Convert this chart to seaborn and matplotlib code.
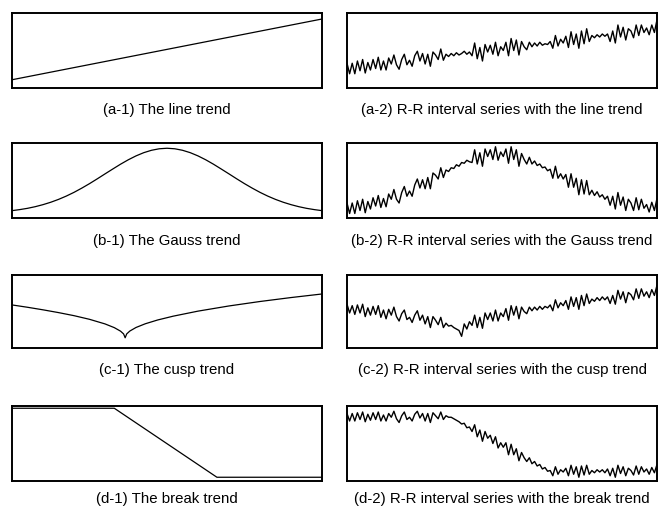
import numpy as np
import matplotlib.pyplot as plt
import seaborn as sns

sns.set_style("white")
plt.rcParams['font.family'] = ['Liberation Sans', 'DejaVu Sans']

# left column: the trends (x as fraction of width, y as % of panel height)
line_x = [0.0, 1.0]
line_y = [11, 92]

gauss_x = [0.0, 0.025, 0.05, 0.075, 0.1, 0.125, 0.15, 0.175, 0.2, 0.225, 0.25,
           0.275, 0.3, 0.325, 0.35, 0.375, 0.4, 0.425, 0.45, 0.475, 0.5,
           0.525, 0.55, 0.575, 0.6, 0.625, 0.65, 0.675, 0.7, 0.725, 0.75,
           0.775, 0.8, 0.825, 0.85, 0.875, 0.9, 0.925, 0.95, 0.975, 1.0]
gauss_y = [9.8, 11.2, 12.9, 15.1, 17.8, 21.0, 24.8, 29.2, 34.2, 39.8, 45.8,
           52.2, 58.8, 65.3, 71.7, 77.6, 82.8, 87.1, 90.3, 92.3, 93.0,
           92.3, 90.3, 87.1, 82.8, 77.6, 71.7, 65.3, 58.8, 52.2, 45.8,
           39.8, 34.2, 29.2, 24.8, 21.0, 17.8, 15.1, 12.9, 11.2, 9.8]

cusp_x = [0.0, 0.05, 0.1, 0.15, 0.2, 0.25, 0.3, 0.33, 0.35, 0.36, 0.365,
          0.37, 0.38, 0.40, 0.43, 0.47, 0.52, 0.6, 0.7, 0.8, 0.9, 1.0]
cusp_y = [59, 55.8, 52.3, 48.5, 44.3, 39.3, 33.0, 27.9, 23.1, 19.3, 14,
          19.3, 23.2, 28.1, 33.2, 38.4, 43.6, 50.5, 57.6, 63.7, 69.1, 74]

break_x = [0.0, 0.33, 0.661, 1.0]
break_y = [97, 97, 5, 5]

# right column: R-R interval series (120 samples each, % of panel height)
rr_line = [33, 19, 33, 19, 36, 23, 38, 20, 34, 24,
           38, 26, 41, 24, 36, 24, 40, 32, 44, 31,
           25, 38, 45, 31, 37, 29, 43, 49, 36, 46,
           32, 45, 29, 48, 44, 38, 52, 37, 45, 42,
           46, 43, 47, 44, 46, 49, 45, 48, 43, 60,
           39, 54, 36, 58, 48, 57, 45, 61, 43, 55,
           50, 61, 43, 66, 50, 64, 44, 62, 55, 51,
           61, 55, 60, 56, 61, 57, 59, 58, 62, 53,
           70, 56, 65, 60, 69, 54, 75, 58, 72, 53,
           76, 59, 79, 62, 70, 67, 71, 68, 72, 69,
           72, 62, 76, 60, 84, 68, 81, 64, 79, 76,
           67, 84, 70, 84, 74, 80, 71, 84, 74, 91]

rr_gauss = [20, 6, 20, 6, 23, 10, 25, 7, 22, 12,
            27, 16, 30, 14, 26, 15, 32, 25, 38, 25,
            20, 34, 42, 29, 36, 29, 44, 52, 40, 51,
            39, 54, 39, 60, 57, 52, 67, 54, 64, 62,
            67, 66, 71, 69, 74, 73, 77, 75, 74, 91,
            72, 87, 69, 92, 82, 91, 78, 95, 77, 88,
            82, 92, 73, 95, 78, 91, 69, 86, 78, 72,
            81, 72, 76, 70, 72, 67, 68, 63, 65, 53,
            69, 53, 59, 52, 58, 41, 59, 41, 53, 31,
            51, 32, 50, 31, 37, 30, 35, 28, 31, 25,
            29, 17, 29, 12, 34, 17, 28, 10, 25, 20,
            10, 27, 11, 25, 13, 18, 8, 21, 10, 26]

rr_cusp = [60, 48, 58, 46, 59, 48, 60, 43, 55, 45,
           57, 46, 58, 42, 52, 40, 53, 45, 56, 43,
           37, 47, 52, 39, 42, 35, 45, 51, 38, 45,
           33, 43, 28, 43, 38, 32, 42, 28, 34, 30,
           31, 28, 26, 24, 16, 33, 26, 36, 31, 45,
           28, 42, 27, 48, 39, 48, 37, 52, 37, 48,
           43, 54, 38, 58, 45, 57, 40, 56, 50, 47,
           56, 51, 56, 52, 57, 53, 57, 55, 59, 51,
           66, 55, 62, 58, 65, 53, 70, 57, 69, 53,
           72, 58, 74, 61, 67, 64, 69, 65, 70, 66,
           70, 61, 72, 60, 79, 67, 77, 62, 76, 73,
           66, 81, 68, 81, 71, 77, 69, 80, 72, 86]

rr_break = [90, 80, 90, 80, 91, 82, 92, 79, 89, 81,
            91, 82, 92, 80, 88, 80, 90, 85, 93, 83,
            78, 87, 92, 82, 85, 80, 89, 93, 84, 90,
            80, 90, 78, 91, 87, 83, 92, 82, 87, 85,
            85, 83, 81, 79, 76, 77, 71, 72, 66, 75,
            59, 68, 53, 66, 57, 61, 50, 59, 44, 51,
            45, 51, 35, 49, 35, 43, 27, 38, 31, 26,
            31, 23, 26, 20, 22, 16, 18, 13, 14, 7,
            19, 9, 15, 12, 17, 7, 21, 9, 19, 5,
            20, 8, 21, 9, 14, 11, 15, 12, 15, 11,
            16, 7, 17, 5, 21, 10, 19, 7, 17, 14,
            8, 20, 9, 19, 12, 16, 9, 18, 11, 22]

captions_left = ["(a-1) The line trend", "(b-1) The Gauss trend",
                 "(c-1) The cusp trend", "(d-1) The break trend"]
captions_right = ["(a-2) R-R interval series with the line trend",
                  "(b-2) R-R interval series with the Gauss trend",
                  "(c-2) R-R interval series with the cusp trend",
                  "(d-2) R-R interval series with the break trend"]

W, H = 664, 509
fig = plt.figure(figsize=(W / 100, H / 100), dpi=100)

# pixel boxes (top, bottom) of each row, and caption centres
rows = [(13, 88), (143, 218), (275, 348), (406, 481)]
cap_y = [110, 241, 370, 499]
cols = [(12, 322), (347, 657)]

left_data = [(line_x, line_y), (gauss_x, gauss_y), (cusp_x, cusp_y), (break_x, break_y)]
right_data = [rr_line, rr_gauss, rr_cusp, rr_break]
idx = np.arange(len(rr_line))

for r, (top, bot) in enumerate(rows):
    for c, (x0, x1) in enumerate(cols):
        ax = fig.add_axes([x0 / W, 1 - bot / H, (x1 - x0) / W, (bot - top) / H])
        if c == 0:
            xs, ys = left_data[r]
            sns.lineplot(x=xs, y=ys, ax=ax, color="black", linewidth=0.9, sort=False)
            ax.set_xlim(0, 1)
        else:
            sns.lineplot(x=idx, y=right_data[r], ax=ax, color="black", linewidth=1.0)
            ax.set_xlim(0, len(idx) - 1)
        ax.set_ylim(0, 100)
        ax.set_xticks([])
        ax.set_yticks([])
        ax.set_xlabel("")
        ax.set_ylabel("")
        for s in ax.spines.values():
            s.set_visible(True)
            s.set_color("black")
            s.set_linewidth(1.4)
        cap = captions_left[r] if c == 0 else captions_right[r]
        fig.text((x0 + x1) / 2 / W, 1 - cap_y[r] / H, cap, ha="center", va="center",
                 fontsize=10.8, color="black")

fig.savefig("out.png", dpi=100)
